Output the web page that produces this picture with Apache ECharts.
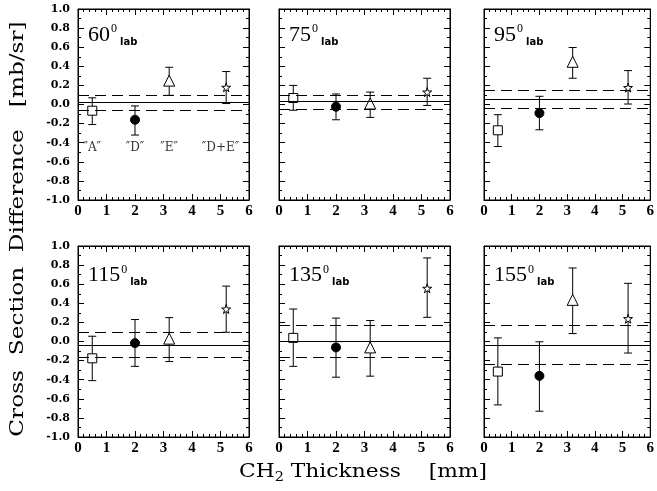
<!DOCTYPE html>
<html>
<head>
<meta charset="utf-8">
<script src="https://cdn.jsdelivr.net/npm/echarts@6/dist/echarts.min.js"></script>
<style>
  html, body { margin: 0; padding: 0; background: #fff; }
  #chart { width: 657px; height: 491px; }
</style>
</head>
<body>
<div id="chart"></div>
<script>
// panel angles (deg, lab)
const angles = [60, 75, 95, 115, 135, 155];
// CH2 thickness of the four targets: "A", "D", "E", "D+E"
const thickness = [0.5, 2.0, 3.2, 5.2];
const targetNames = ['″A″', '″D″', '″E″', '″D+E″'];
const targetLabelX = [0.5, 2.0, 3.2, 5.0];
const targetLabelY = -0.45;

// cross section difference per panel, order: square, circle, triangle, star
const centreY = [
  [-0.065, -0.16, 0.25, 0.18],
  [0.068, -0.023, 0.01, 0.13],
  [-0.27, -0.09, 0.447, 0.177],
  [-0.176, -0.017, 0.03, 0.34],
  [0.038, -0.062, -0.062, 0.557],
  [-0.315, -0.36, 0.436, 0.239]
];
const lowY = [
  [-0.21, -0.32, 0.096, 0.01],
  [-0.06, -0.16, -0.135, -0.01],
  [-0.44, -0.265, 0.275, 0.005],
  [-0.41, -0.26, -0.21, 0.097],
  [-0.26, -0.374, -0.363, 0.253],
  [-0.664, -0.73, 0.083, -0.121]
];
const highY = [
  [0.07, -0.015, 0.39, 0.345],
  [0.20, 0.11, 0.13, 0.275],
  [-0.107, 0.086, 0.597, 0.355],
  [0.055, 0.23, 0.25, 0.58],
  [0.34, 0.245, 0.22, 0.875],
  [0.038, -0.003, 0.77, 0.609]
];
// weighted mean (solid) and its band (dashed)
const meanLine = [0.016, 0.03, 0.054, -0.035, 0.0, -0.035];
const bandLow = [-0.06, -0.05, -0.044, -0.166, -0.166, -0.239];
const bandHigh = [0.10, 0.104, 0.149, 0.10, 0.173, 0.173];

const xTicks = [0, 6, 1];       // min, max, step
const yTicks = [-1, 1, 0.2];

// layout
const colLeft = [78, 279, 484];
const rowTop = [9, 246];
const panelW = 171;
const panelH = 191;

const starPath = 'path://M50,0 L61,35 L98,35 L68,57 L79,91 L50,70 L21,91 L32,57 L2,35 L39,35 Z';
const markerSymbols = ['rect', 'circle', 'triangle', starPath];
const markerSizes = [9, 9, 11, 9];
const markerFill = ['#fff', '#000', '#fff', '#fff'];

const chart = echarts.init(document.getElementById('chart'));

const grids = [], xAxes = [], yAxes = [], series = [], graphics = [];
const black = () => ({ color: '#000', width: 1 });

angles.forEach((ang, i) => {
  const col = i % 3, row = Math.floor(i / 3);
  const gl = colLeft[col], gt = rowTop[row];
  grids.push({ left: gl, top: gt, width: panelW, height: panelH, show: true, borderColor: '#000', borderWidth: 1 });

  ['bottom', 'top'].forEach(pos => {
    xAxes.push({
      type: 'value', gridIndex: i, position: pos,
      min: xTicks[0], max: xTicks[1], interval: xTicks[2],
      axisLine: { show: true, onZero: false, lineStyle: black() },
      axisTick: { show: true, inside: true, length: 6, lineStyle: black() },
      minorTick: { show: true, splitNumber: 5, length: 3, lineStyle: black() },
      splitLine: { show: false },
      axisLabel: {
        show: pos === 'bottom', margin: 4, color: '#000',
        fontFamily: 'Liberation Serif', fontWeight: 'bold', fontSize: 15
      }
    });
  });
  ['left', 'right'].forEach(pos => {
    yAxes.push({
      type: 'value', gridIndex: i, position: pos,
      min: yTicks[0], max: yTicks[1], interval: yTicks[2],
      axisLine: { show: true, onZero: false, lineStyle: black() },
      axisTick: { show: true, inside: true, length: 6, lineStyle: black() },
      minorTick: { show: true, splitNumber: 2, length: 3, lineStyle: black() },
      splitLine: { show: false },
      axisLabel: {
        show: pos === 'left' && col === 0, margin: 8, color: '#000',
        fontFamily: 'DejaVu Serif', fontWeight: 'bold', fontSize: 11,
        formatter: v => v.toFixed(1)
      }
    });
  });

  const xi = 2 * i, yi = 2 * i;

  // error bars with the mean line and its band
  series.push({
    type: 'custom', xAxisIndex: xi, yAxisIndex: yi, z: 2,
    data: thickness.map((t, k) => [t, lowY[i][k], highY[i][k]]),
    encode: { x: 0, y: [1, 2] },
    renderItem: (params, api) => {
      const x = api.value(0);
      const a = api.coord([x, api.value(1)]);
      const b = api.coord([x, api.value(2)]);
      const cap = 4;
      const st = { stroke: '#000', lineWidth: 1 };
      return {
        type: 'group', children: [
          { type: 'line', shape: { x1: a[0], y1: a[1], x2: b[0], y2: b[1] }, style: st },
          { type: 'line', shape: { x1: a[0] - cap, y1: a[1], x2: a[0] + cap, y2: a[1] }, style: st },
          { type: 'line', shape: { x1: b[0] - cap, y1: b[1], x2: b[0] + cap, y2: b[1] }, style: st }
        ]
      };
    },
    markLine: {
      silent: true, symbol: 'none', label: { show: false },
      data: [
        { yAxis: meanLine[i], lineStyle: { color: '#000', width: 1, type: 'solid' } },
        { yAxis: bandLow[i], lineStyle: { color: '#000', width: 1, type: [11, 6] } },
        { yAxis: bandHigh[i], lineStyle: { color: '#000', width: 1, type: [11, 6] } }
      ]
    }
  });

  // one scatter per target
  thickness.forEach((t, k) => {
    series.push({
      type: 'scatter', xAxisIndex: xi, yAxisIndex: yi, z: 3,
      symbol: markerSymbols[k], symbolSize: markerSizes[k],
      itemStyle: { color: markerFill[k], borderColor: '#000', borderWidth: 1, opacity: 1 },
      data: [[t, centreY[i][k]]]
    });
  });

  // target names in the first panel
  if (i === 0) {
    series.push({
      type: 'scatter', xAxisIndex: xi, yAxisIndex: yi, symbolSize: 0,
      data: targetLabelX.map((x, k) => ({ value: [x, targetLabelY], name: targetNames[k] })),
      label: {
        show: true, position: 'inside', formatter: p => p.name, color: '#000',
        fontFamily: 'DejaVu Serif', fontSize: 12
      }
    });
  }

  // angle label
  graphics.push({
    type: 'text', left: gl + 10, top: gt + 14 + row * 3.5,
    style: {
      text: '{n|' + ang + '}{s|0}{b|lab}',
      rich: {
        n: { fontFamily: 'Liberation Serif', fontSize: 22, lineHeight: 24, verticalAlign: 'middle', fill: '#000' },
        s: { fontFamily: 'Liberation Serif', fontSize: 12, lineHeight: 11, verticalAlign: 'top', fill: '#000', padding: [0, 0, 0, 1] },
        b: { fontFamily: 'DejaVu Sans', fontWeight: 'bold', fontSize: 10, lineHeight: 14, verticalAlign: 'bottom', fill: '#000', padding: [0, 0, 0, 3] }
      }
    }
  });
});

// axis titles (stretched to the wide lettering of the original)
graphics.push({
  type: 'text', x: 18, y: 229, rotation: Math.PI / 2, scaleX: 1.29,
  style: {
    text: 'Cross  Section  Difference   [mb/sr]',
    fontFamily: 'DejaVu Serif', fontSize: 18, fill: '#000',
    align: 'center', verticalAlign: 'middle'
  }
});
graphics.push({
  type: 'text', x: 363, y: 472, scaleX: 1.21,
  style: {
    text: '{n|CH}{s|2}{n| Thickness    [mm]}',
    align: 'center', verticalAlign: 'middle',
    rich: {
      n: { fontFamily: 'DejaVu Serif', fontSize: 18, lineHeight: 24, verticalAlign: 'middle', fill: '#000' },
      s: { fontFamily: 'DejaVu Serif', fontSize: 12, lineHeight: 14, verticalAlign: 'bottom', fill: '#000' }
    }
  }
});

chart.setOption({
  animation: false,
  grid: grids,
  xAxis: xAxes,
  yAxis: yAxes,
  series: series,
  graphic: graphics
});
</script>
</body>
</html>
